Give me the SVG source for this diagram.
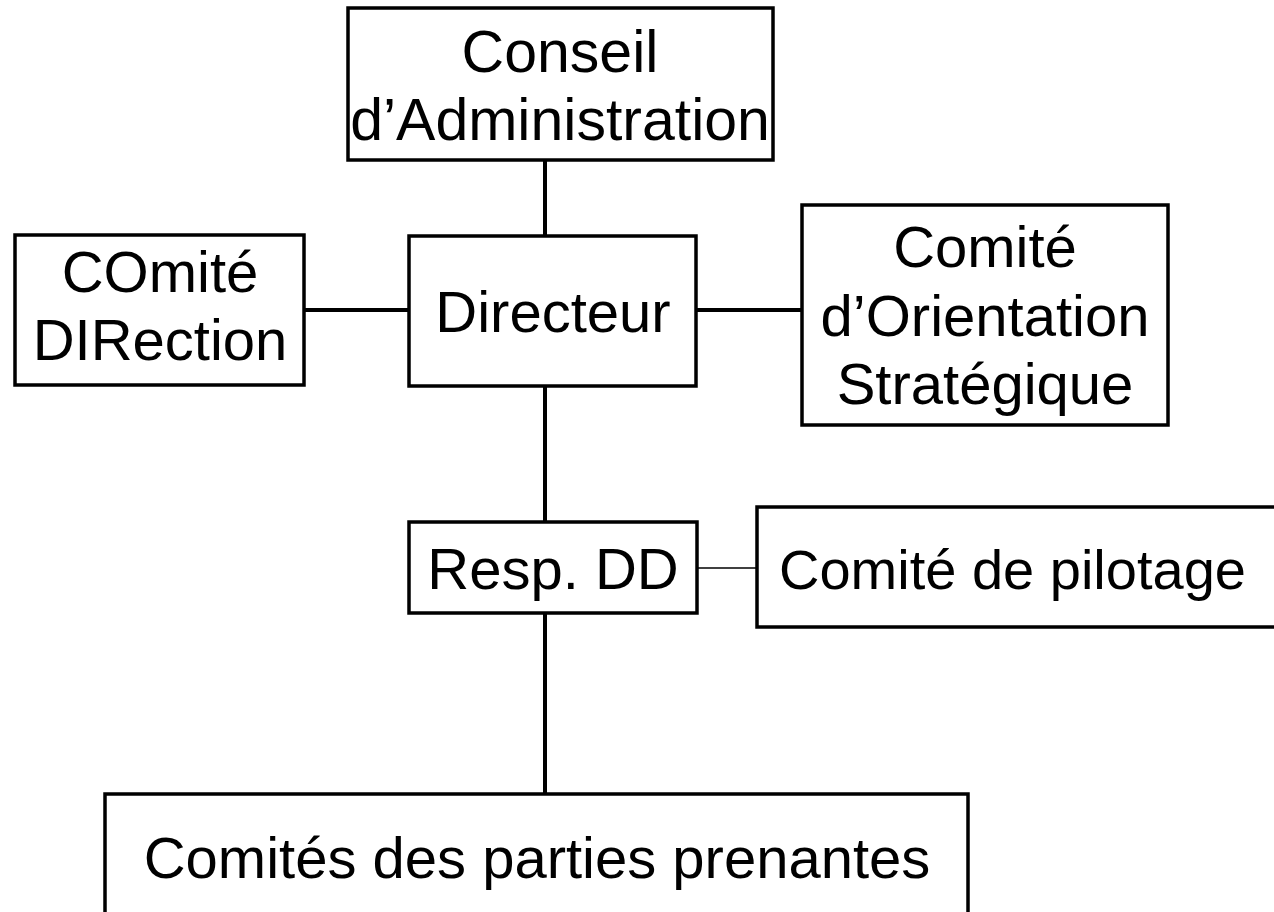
<svg xmlns="http://www.w3.org/2000/svg" width="1274" height="912" viewBox="0 0 1274 912">
<style>
.box{fill:#fff;stroke:#000;stroke-width:3.5}
.t{font-family:"Liberation Sans",Arial,sans-serif;font-size:58px;fill:#000;text-anchor:middle}
.c{stroke:#000;stroke-width:4;fill:none}
.thin{stroke:#000;stroke-width:1.5;fill:none}
</style>
<rect width="1274" height="912" fill="#fff"/>
<g id="connectors">
<line class="c" x1="545" y1="160" x2="545" y2="236"/>
<line class="c" x1="304" y1="310" x2="409" y2="310"/>
<line class="c" x1="696" y1="310" x2="802" y2="310"/>
<line class="c" x1="545" y1="386" x2="545" y2="522"/>
<line class="thin" x1="697" y1="568" x2="757" y2="568"/>
<line class="c" x1="545" y1="613" x2="545" y2="794"/>
</g>
<g id="conseil">
<rect class="box" x="348" y="8" width="425" height="152"/>
<text class="t" x="560" y="72" style="font-size:59px">Conseil</text>
<text class="t" x="560" y="140" style="font-size:59px">d’Administration</text>
</g>
<g id="codir">
<rect class="box" x="15" y="235" width="289" height="150"/>
<text class="t" x="160" y="292">COmité</text>
<text class="t" x="160" y="360">DIRection</text>
</g>
<g id="directeur">
<rect class="box" x="409" y="236" width="287" height="150"/>
<text class="t" x="553" y="332">Directeur</text>
</g>
<g id="cos">
<rect class="box" x="802" y="205" width="366" height="220"/>
<text class="t" x="985" y="267">Comité</text>
<text class="t" x="985" y="336">d’Orientation</text>
<text class="t" x="985" y="404">Stratégique</text>
</g>
<g id="respdd">
<rect class="box" x="409" y="522" width="288" height="91"/>
<text class="t" x="553" y="589">Resp. DD</text>
</g>
<g id="copil">
<rect class="box" x="757" y="507" width="530" height="120"/>
<text class="t" x="779" y="589" style="text-anchor:start;font-size:56px">Comité de pilotage</text>
</g>
<g id="parties">
<rect class="box" x="105" y="794" width="863" height="140"/>
<text class="t" x="537" y="878">Comités des parties prenantes</text>
</g>
</svg>
